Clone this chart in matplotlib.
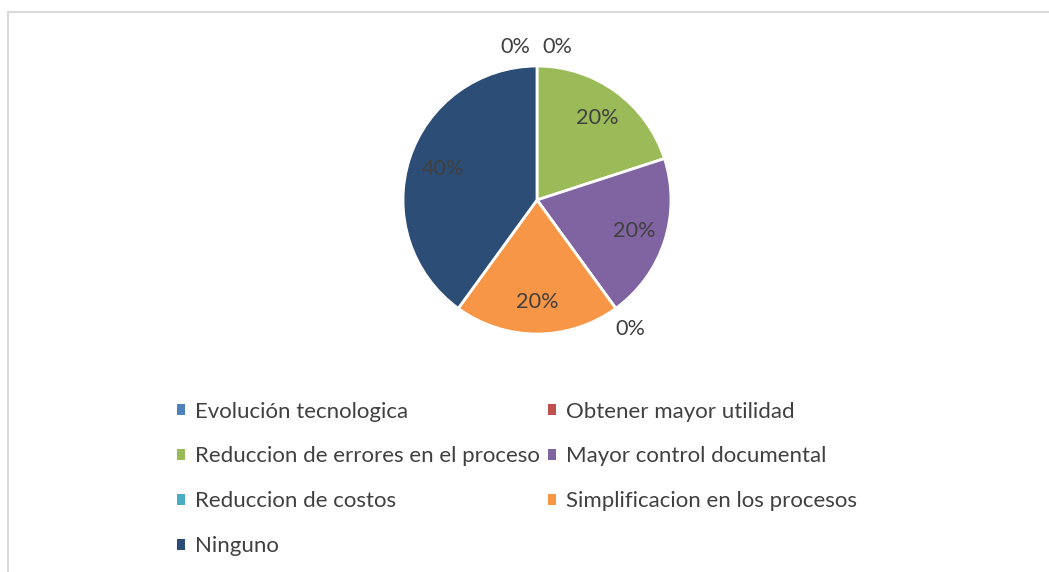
import numpy as np
import matplotlib
matplotlib.use("Agg")
from matplotlib import pyplot as plt
from matplotlib.patches import Rectangle

# datos de la encuesta
categorias = ["Evolución tecnologica", "Obtener mayor utilidad",
              "Reduccion de errores en el proceso", "Mayor control documental",
              "Reduccion de costos", "Simplificacion en los procesos", "Ninguno"]
porcentajes = [0, 0, 20, 20, 0, 20, 40]
colores = ["#4F81BD", "#C0504D", "#9BBB59", "#8064A2", "#4BACC6", "#F79646", "#2C4D75"]

plt.rcParams['font.family'] = ['Lato', 'DejaVu Sans']
txt_color = "#404040"
fs = 16.0

W, H = 1049, 572
fig = plt.figure(figsize=(W / 100, H / 100), dpi=100)
fig.patch.set_facecolor("white")

# marco del grafico (solo se ven borde superior e izquierdo)
fig.patches.append(Rectangle((8 / W, -0.1), 1.2, (H - 12) / H + 0.1,
                             transform=fig.transFigure, facecolor="white",
                             edgecolor="#D9D9D9", lw=1.5, zorder=-5))

cx, cy, r = 537, 200, 134
ax = fig.add_axes([(cx - r) / W, (H - cy - r) / H, 2 * r / W, 2 * r / H])
ax.set_zorder(2)
wedges, _ = ax.pie(porcentajes, colors=colores, startangle=90, counterclock=False,
                   radius=1, wedgeprops=dict(edgecolor="white", linewidth=2))
ax.set_xlim(-1, 1)
ax.set_ylim(-1, 1)

# etiquetas de porcentaje
top_zero = 0
for w, v in zip(wedges, porcentajes):
    ang = np.deg2rad((w.theta1 + w.theta2) / 2)
    if v > 0:
        rr = 0.76 if v < 40 else 0.74
        x, y = rr * np.cos(ang), rr * np.sin(ang)
    else:
        rr = 1.19
        x, y = rr * np.cos(ang), rr * np.sin(ang)
        if abs(np.rad2deg(ang) - 90) < 1:
            # los ceros de arriba se separan para no solaparse
            x = -0.16 if top_zero == 0 else 0.15
            y = 1.14
            top_zero += 1
    ax.text(x, y, f"{v}%", ha="center", va="center", fontsize=15.6, color=txt_color)

# leyenda en dos columnas, ordenada por filas
orden = [0, 2, 4, 6, 1, 3, 5]
leg = fig.legend([wedges[i] for i in orden], [categorias[i] for i in orden],
                 ncol=2, loc="upper left", bbox_to_anchor=(177 / W, (H - 401.5) / H),
                 frameon=False, fontsize=fs, handlelength=0.36, handleheight=0.36,
                 handletextpad=0.45, columnspacing=0.38, labelspacing=1.12,
                 borderpad=0, borderaxespad=0)
for t in leg.get_texts():
    t.set_color(txt_color)
for h in leg.legend_handles:
    h.set_edgecolor("none")

fig.savefig("out.png", dpi=100)
